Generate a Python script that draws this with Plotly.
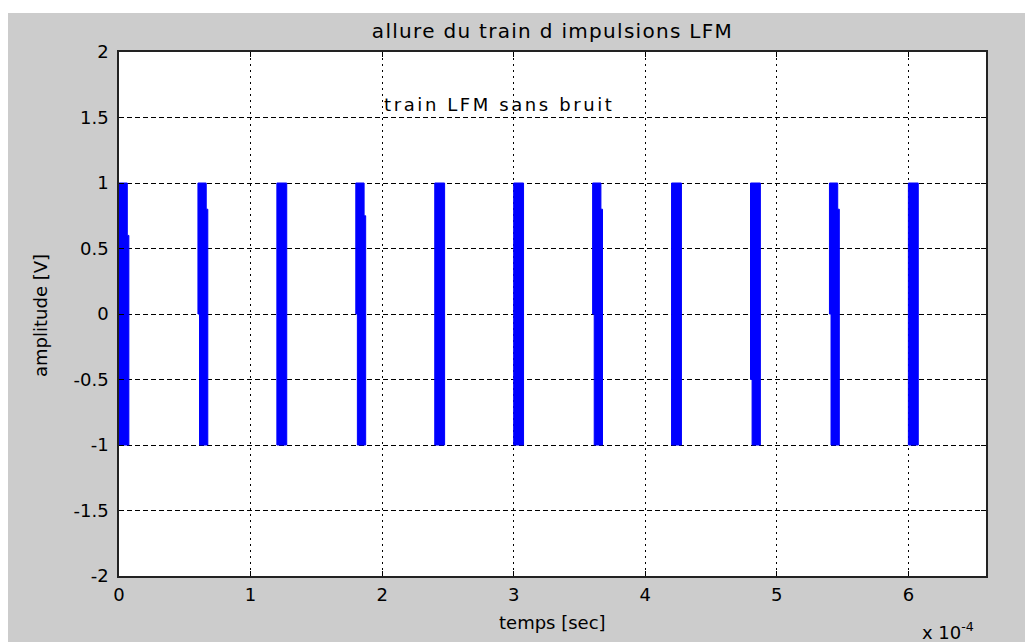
import math
import plotly.graph_objects as go

# ---------------- data ----------------
# start time of each LFM pulse, in units of 1e-4 s
pulse_start_e4 = [0.0, 0.6, 1.2, 1.8, 2.4, 3.0, 3.6, 4.2, 4.8, 5.4, 6.0]
# duration of one pulse, in units of 1e-4 s
pulse_duration_e4 = 0.075
# pulse amplitude (V)
amplitude = 1.0
# aliasing steps visible on the dense chirp blocks (level in V, nan = none)
right_step_level = [0.6, 0.8, math.nan, 0.75, math.nan, math.nan, 0.8, math.nan, math.nan, 0.8, math.nan]
left_step_level = [math.nan, 0.0, math.nan, 0.0, math.nan, math.nan, 0.0, math.nan, -0.5, 0.0, math.nan]
step_size_e4 = 0.012

x_tick_vals_e4 = [0, 1, 2, 3, 4, 5, 6]
x_tick_text = ["0", "1", "2", "3", "4", "5", "6"]
y_tick_vals = [-2, -1.5, -1, -0.5, 0, 0.5, 1, 1.5, 2]
y_tick_text = ["-2", "-1.5", "-1", "-0.5", "0", "0.5", "1", "1.5", "2"]
x_max_e4 = 6.59

title_text = "allure du train d impulsions LFM"
legend_text = "train LFM sans bruit"
legend_pos = (2.0e-4, 1.6)
xlabel = "temps [sec]"
ylabel = "amplitude [V]"

# ---------------- build pulse outlines ----------------
SC = 1e-4
xs, ys = [], []
for t0, rl, ll in zip(pulse_start_e4, right_step_level, left_step_level):
    a = t0 * SC
    b = (t0 + pulse_duration_e4) * SC
    s = step_size_e4 * SC
    px, py = [a], [amplitude]
    if math.isnan(rl):
        px += [b]; py += [amplitude]
    else:
        px += [b - s, b - s, b]; py += [amplitude, rl, rl]
    px += [b]; py += [-amplitude]
    if math.isnan(ll):
        px += [a]; py += [-amplitude]
    else:
        px += [a + s, a + s, a]; py += [-amplitude, ll, ll]
    px += [a]; py += [amplitude]
    xs += px + [None]
    ys += py + [None]

BLUE = "#0000ff"
GRAY = "#cccccc"
FONT = "DejaVu Sans"

fig = go.Figure()
fig.add_trace(go.Scatter(
    x=xs, y=ys, mode="lines", fill="toself", fillcolor=BLUE,
    line=dict(color=BLUE, width=1), hoverinfo="skip", showlegend=False))

W, H = 1025, 642
L, R, T, B = 119, 39, 52, 66
pw, ph = W - L - R, H - T - B

def px2x(p):
    return (p - L) / pw

def py2y(p):
    return (H - B - p) / ph

fig.update_layout(
    width=W, height=H,
    margin=dict(l=L, r=R, t=T, b=B, pad=0),
    paper_bgcolor=GRAY, plot_bgcolor="white",
    font=dict(family=FONT, size=18, color="black"),
    showlegend=False,
    title=dict(
        text='<span style="letter-spacing:1.3px">' + title_text + "</span>",
        x=0.5, xref="paper", xanchor="center",
        y=1 - 31 / H, yref="container", yanchor="middle",
        font=dict(family=FONT, size=20, color="black")),
    xaxis=dict(
        range=[0, x_max_e4 * SC], tickmode="array",
        tickvals=[v * SC for v in x_tick_vals_e4], ticktext=x_tick_text,
        ticks="inside", ticklen=5, tickcolor="black", tickwidth=1,
        showline=True, linecolor="#222222", linewidth=1.5, mirror="ticks",
        showgrid=True, gridcolor="black", gridwidth=1, griddash="2px,4px",
        zeroline=False, tickfont=dict(family=FONT, size=18),
        ticklabelstandoff=2),
    yaxis=dict(
        range=[-2, 2], tickmode="array", tickvals=y_tick_vals, ticktext=y_tick_text,
        ticks="inside", ticklen=5, tickcolor="black", tickwidth=1,
        showline=True, linecolor="#222222", linewidth=1.5, mirror="ticks",
        showgrid=True, gridcolor="black", gridwidth=1, griddash="5px,3px",
        zeroline=False, tickfont=dict(family=FONT, size=18),
        ticklabelstandoff=5),
    shapes=[
        dict(type="rect", xref="paper", yref="paper", layer="below",
             x0=-0.3, x1=1.3, y0=py2y(13), y1=1.3,
             fillcolor="white", line=dict(width=0)),
        dict(type="rect", xref="paper", yref="paper", layer="below",
             x0=-0.3, x1=px2x(8), y0=-0.3, y1=1.3,
             fillcolor="white", line=dict(width=0)),
    ],
    annotations=[
        dict(text='<span style="letter-spacing:2.6px">' + legend_text + "</span>",
             x=legend_pos[0], y=legend_pos[1], xref="x", yref="y",
             xanchor="left", yanchor="middle", showarrow=False,
             font=dict(family=FONT, size=18, color="black")),
        dict(text=xlabel, x=px2x(552), y=py2y(622), xref="paper", yref="paper",
             xanchor="center", yanchor="middle", showarrow=False,
             font=dict(family=FONT, size=18)),
        dict(text=ylabel, x=px2x(40), y=py2y(316), xref="paper", yref="paper",
             xanchor="center", yanchor="middle", showarrow=False, textangle=-90,
             font=dict(family=FONT, size=18)),
        dict(text="x 10<sup>-4</sup>", x=px2x(920), y=py2y(631), xref="paper", yref="paper",
             xanchor="left", yanchor="middle", showarrow=False,
             font=dict(family=FONT, size=18)),
    ],
)

fig.write_html("out.html")
